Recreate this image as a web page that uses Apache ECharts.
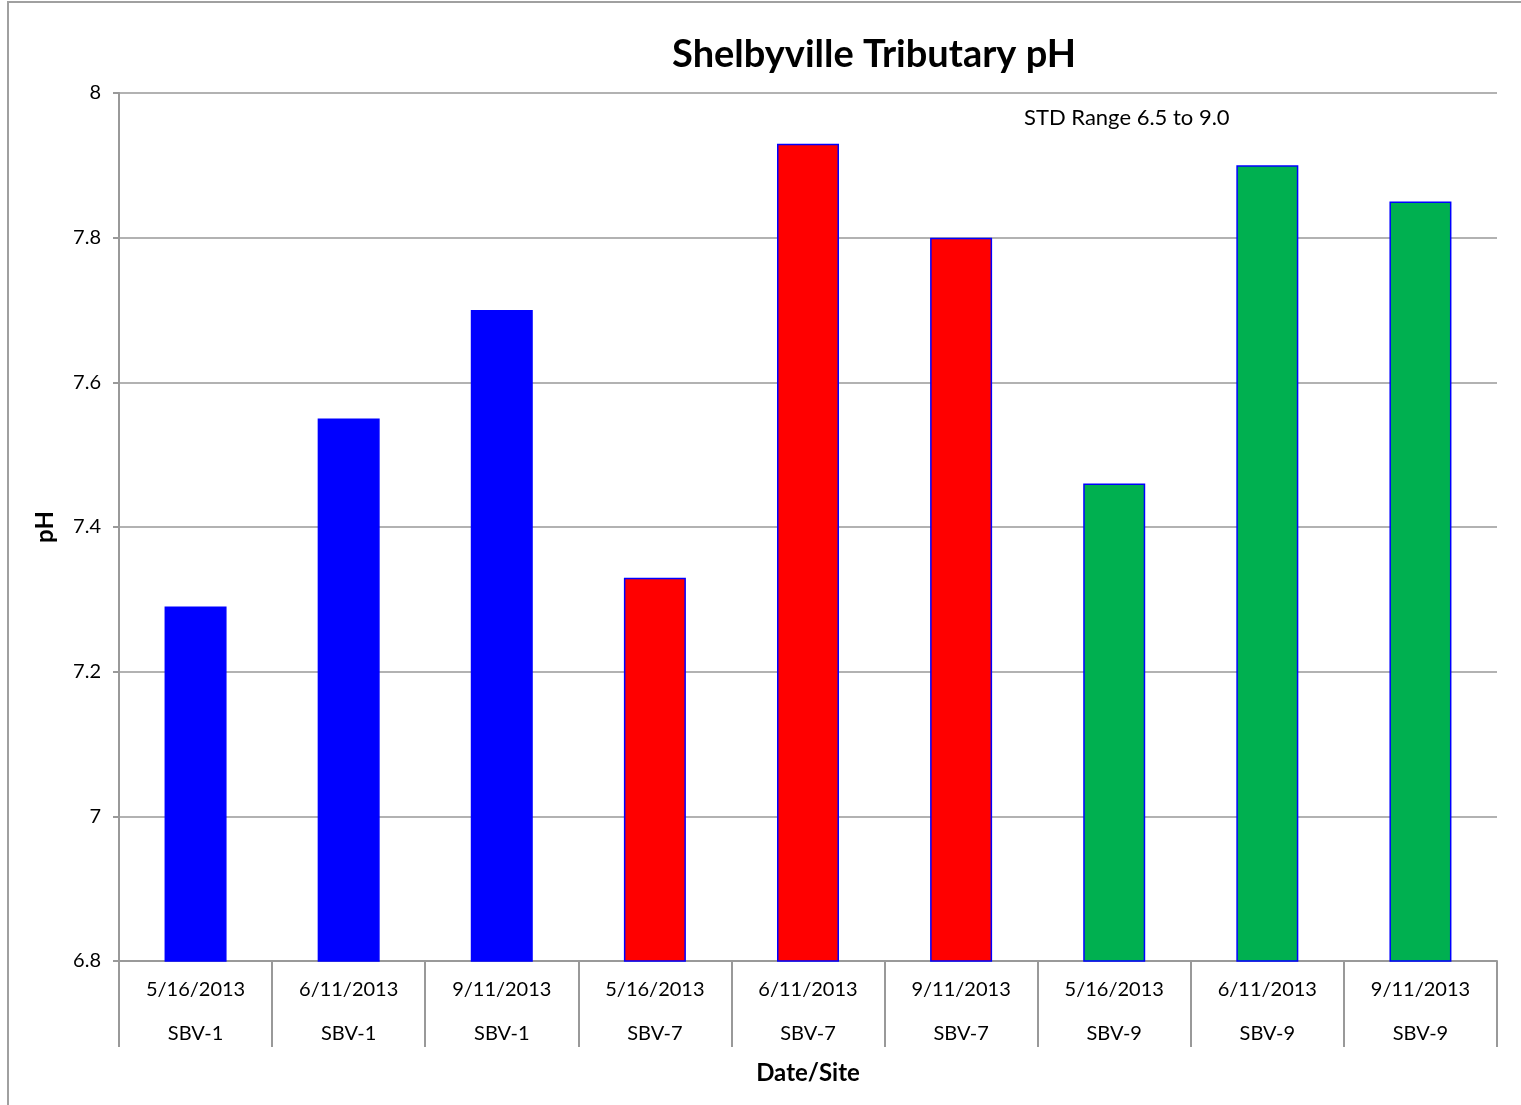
<!DOCTYPE html>
<html><head><meta charset="utf-8">
<script src="https://cdn.jsdelivr.net/npm/echarts@6/dist/echarts.min.js"></script>
<style>
html,body{margin:0;padding:0;background:#fff;}
#frame{position:absolute;left:7px;top:1px;width:1530px;height:1120px;border:2px solid #a0a0a0;box-sizing:border-box;}
#c{position:absolute;left:0;top:0;width:1521px;height:1105px;}
</style></head>
<body>
<div id="frame"></div>
<div id="c"></div>
<script>
const dates = ["5/16/2013","6/11/2013","9/11/2013","5/16/2013","6/11/2013","9/11/2013","5/16/2013","6/11/2013","9/11/2013"];
const sites = ["SBV-1","SBV-1","SBV-1","SBV-7","SBV-7","SBV-7","SBV-9","SBV-9","SBV-9"];
const phValues = [7.29, 7.55, 7.70, 7.33, 7.93, 7.80, 7.46, 7.90, 7.85];
const yTicks = [6.8, 7, 7.2, 7.4, 7.6, 7.8, 8];
const siteColors = {"SBV-1":"#0000ff","SBV-7":"#ff0000","SBV-9":"#00b050"};

const categories = dates.map((d,i)=> d + "\n" + sites[i]);
const font = "Lato, 'Liberation Sans', sans-serif";
const chart = echarts.init(document.getElementById('c'), null, {renderer:'canvas'});
chart.setOption({
  animation:false,
  backgroundColor:'transparent',
  title:{text:'Shelbyville Tributary pH', left:869, top:31, textAlign:'center',
    textStyle:{fontFamily:font,fontSize:38,fontWeight:'bold',color:'#000'}},
  graphic:[{type:'text', left:1024, top:107, style:{text:'STD Range 6.5 to 9.0', font:'22px '+font, fill:'#000'}}],
  grid:{left:119,right:24,top:93,bottom:144,containLabel:false},
  xAxis:{type:'category', data:categories, boundaryGap:true,
    name:'Date/Site', nameLocation:'middle', nameGap:95,
    nameTextStyle:{fontFamily:font,fontSize:24,fontWeight:'bold',color:'#000'},
    axisLine:{lineStyle:{color:'#999',width:2}},
    axisTick:{show:true,alignWithLabel:false,length:86,lineStyle:{color:'#999',width:2}},
    axisLabel:{interval:0,margin:7,fontFamily:font,fontSize:20,color:'#000',lineHeight:44}
  },
  yAxis:{type:'value', min:6.8, max:8, interval:0.2,
    name:'pH', nameLocation:'middle', nameGap:62, nameRotate:90,
    nameTextStyle:{fontFamily:font,fontSize:24,fontWeight:'bold',color:'#000'},
    axisLine:{show:true,lineStyle:{color:'#999',width:2}},
    axisTick:{show:true,length:6,lineStyle:{color:'#999',width:2}},
    splitLine:{lineStyle:{color:'#999',width:1.5}},
    axisLabel:{fontFamily:font,fontSize:20,color:'#000',margin:18,
      formatter:v=>{const r=Math.round(v*10)/10; return yTicks.includes(r)? String(r):'';}}
  },
  series:[{type:'bar', barWidth:62,
    data:phValues.map((v,i)=>({value:v,itemStyle:{color:siteColors[sites[i]],borderColor:'#0000ff',borderWidth:1.5}}))
  }]
});
</script>
</body></html>
